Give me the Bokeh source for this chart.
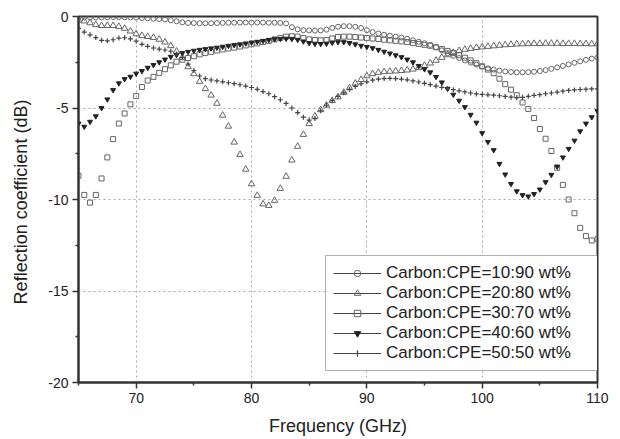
import numpy as np
from bokeh.plotting import figure
from bokeh.models import (Range1d, FixedTicker, Legend, LegendItem, ColumnDataSource)
from bokeh.embed import file_html
from bokeh.resources import INLINE

# Frequency grid (GHz), 0.5 GHz step from 65 to 110
freq = [65.0 + 0.5 * i for i in range(91)]

s10_90 = [-0.05, -0.05, -0.05, -0.05, -0.05, -0.04, -0.03, -0.03, -0.04, -0.05,
          -0.06, -0.08, -0.10, -0.12, -0.14, -0.16, -0.20, -0.26, -0.32, -0.35,
          -0.36, -0.37, -0.37, -0.37, -0.36, -0.35, -0.34, -0.34, -0.33, -0.33,
          -0.33, -0.33, -0.33, -0.34, -0.34, -0.35, -0.38, -0.58, -0.70, -0.75,
          -0.76, -0.77, -0.76, -0.72, -0.62, -0.56, -0.53, -0.53, -0.56, -0.63,
          -0.75, -0.85, -0.93, -1.00, -1.05, -1.10, -1.15, -1.22, -1.30, -1.38,
          -1.46, -1.55, -1.68, -1.85, -2.00, -2.15, -2.27, -2.40, -2.52, -2.63,
          -2.74, -2.83, -2.90, -2.96, -3.00, -3.03, -3.05, -3.05, -3.04, -3.02,
          -2.98, -2.93, -2.86, -2.78, -2.70, -2.62, -2.53, -2.45, -2.37, -2.30,
          -2.24]

s20_80 = [-0.20, -0.25, -0.35, -0.45, -0.50, -0.50, -0.50, -0.55, -0.65, -0.80,
          -0.95, -1.05, -1.10, -1.15, -1.25, -1.40, -1.60, -1.90, -2.25, -2.75,
          -3.13, -3.55, -3.95, -4.30, -4.75, -5.40, -6.00, -6.87, -7.55, -8.35,
          -9.15, -9.78, -10.25, -10.33, -10.05, -9.40, -8.74, -7.85, -7.10, -6.45,
          -5.86, -5.45, -5.10, -4.85, -4.60, -4.40, -4.15, -3.90, -3.65, -3.45,
          -3.25, -3.13, -3.06, -3.02, -3.00, -2.98, -2.96, -2.93, -2.88, -2.80,
          -2.68, -2.55, -2.40, -2.24, -2.10, -1.97, -1.87, -1.80, -1.75, -1.70,
          -1.67, -1.64, -1.61, -1.58, -1.55, -1.53, -1.51, -1.50, -1.49, -1.48,
          -1.48, -1.47, -1.47, -1.47, -1.48, -1.48, -1.48, -1.49, -1.49, -1.50,
          -1.50]

s30_70 = [-8.70, -9.75, -10.17, -9.75, -8.85, -7.70, -6.70, -5.85, -5.30, -4.80,
          -4.35, -3.85, -3.50, -3.30, -3.08, -2.88, -2.67, -2.47, -2.36, -2.27,
          -2.17, -2.07, -2.00, -1.93, -1.86, -1.80, -1.75, -1.70, -1.64, -1.58,
          -1.52, -1.47, -1.40, -1.33, -1.25, -1.17, -1.10, -1.08, -1.10, -1.18,
          -1.25, -1.28, -1.30, -1.28, -1.20, -1.12, -1.10, -1.10, -1.12, -1.15,
          -1.17, -1.20, -1.23, -1.27, -1.30, -1.33, -1.36, -1.40, -1.45, -1.50,
          -1.55, -1.60, -1.68, -1.78, -1.88, -2.00, -2.12, -2.25, -2.40, -2.55,
          -2.72, -2.90, -3.10, -3.40, -3.70, -4.00, -4.30, -4.70, -5.05, -5.55,
          -6.15, -6.68, -7.35, -8.27, -9.20, -10.00, -10.75, -11.55, -12.00, -12.24,
          -12.15]

s40_60 = [-5.85, -6.02, -5.75, -5.45, -5.00, -4.53, -4.02, -3.65, -3.42, -3.29,
          -3.12, -2.98, -2.80, -2.65, -2.50, -2.35, -2.20, -2.10, -2.00, -1.93,
          -1.87, -1.82, -1.78, -1.74, -1.70, -1.65, -1.60, -1.56, -1.52, -1.47,
          -1.42, -1.38, -1.33, -1.28, -1.24, -1.22, -1.21, -1.22, -1.27, -1.36,
          -1.45, -1.49, -1.50, -1.48, -1.43, -1.40, -1.40, -1.45, -1.52, -1.60,
          -1.66, -1.73, -1.82, -1.92, -2.02, -2.12, -2.22, -2.35, -2.50, -2.70,
          -2.88, -3.05, -3.30, -3.60, -3.95, -4.27, -4.60, -4.95, -5.37, -5.80,
          -6.37, -6.85, -7.30, -8.05, -8.63, -9.15, -9.55, -9.76, -9.83, -9.70,
          -9.45, -9.05, -8.65, -8.20, -7.70, -7.23, -6.78, -6.27, -5.85, -5.50,
          -5.17]

s50_50 = [-0.65, -0.85, -1.00, -1.15, -1.30, -1.33, -1.27, -1.18, -1.16, -1.22,
          -1.35, -1.52, -1.63, -1.72, -1.78, -1.83, -1.90, -2.05, -2.25, -2.60,
          -2.95, -3.25, -3.40, -3.47, -3.52, -3.57, -3.62, -3.67, -3.73, -3.80,
          -3.88, -3.98, -4.10, -4.22, -4.38, -4.55, -4.75, -5.00, -5.25, -5.50,
          -5.66, -5.58, -5.15, -4.85, -4.60, -4.37, -4.17, -3.98, -3.82, -3.68,
          -3.57, -3.48, -3.42, -3.39, -3.38, -3.39, -3.42, -3.46, -3.52, -3.58,
          -3.65, -3.72, -3.80, -3.87, -3.94, -4.00, -4.06, -4.12, -4.18, -4.23,
          -4.26, -4.28, -4.30, -4.33, -4.37, -4.41, -4.44, -4.42, -4.36, -4.31,
          -4.27, -4.22, -4.18, -4.13, -4.08, -4.04, -4.01, -3.99, -3.97, -3.96,
          -3.95]

labels = ["Carbon:CPE=10:90 wt%", "Carbon:CPE=20:80 wt%", "Carbon:CPE=30:70 wt%",
          "Carbon:CPE=40:60 wt%", "Carbon:CPE=50:50 wt%"]

x_ticks = [70, 80, 90, 100, 110]
x_minor = [65, 75, 85, 95, 105]
y_ticks = [-20, -15, -10, -5, 0]
y_minor = [-17.5, -12.5, -7.5, -2.5]
y_tick_labels = ["-20", "-15", "-10", "-5", "0"]
x_tick_labels = ["70", "80", "90", "100", "110"]

FONT = "Liberation Sans"
TXT = "#222222"

p = figure(width=620, height=439, output_backend="svg", toolbar_location=None,
           x_range=Range1d(65, 110), y_range=Range1d(-20, 0),
           min_border_left=78, min_border_right=23, min_border_top=16,
           min_border_bottom=57, background_fill_color="white",
           border_fill_color="white")

p.outline_line_color = "#333333"
p.outline_line_width = 2

for ax in (p.xaxis[0], p.yaxis[0]):
    ax.axis_line_color = "#333333"
    ax.axis_line_width = 2
    ax.major_tick_line_color = "#333333"
    ax.major_tick_line_width = 1.5
    ax.minor_tick_line_color = "#333333"
    ax.minor_tick_line_width = 1.5
    ax.major_tick_in = 0
    ax.major_tick_out = 6
    ax.minor_tick_in = 0
    ax.minor_tick_out = 3
    ax.major_label_text_font = FONT
    ax.major_label_text_font_size = "14px"
    ax.major_label_text_color = TXT
    ax.axis_label_text_font = FONT
    ax.axis_label_text_font_size = "18px"
    ax.axis_label_text_font_style = "normal"
    ax.axis_label_text_color = TXT

p.xaxis.ticker = FixedTicker(ticks=x_ticks, minor_ticks=x_minor)
p.yaxis.ticker = FixedTicker(ticks=y_ticks, minor_ticks=y_minor)
p.xaxis.major_label_overrides = {t: s for t, s in zip(x_ticks, x_tick_labels)}
p.yaxis.major_label_overrides = {t: s for t, s in zip(y_ticks, y_tick_labels)}
p.xaxis.major_label_standoff = 4
p.yaxis.major_label_standoff = 4
p.xaxis.axis_label = "Frequency (GHz)"
p.yaxis.axis_label = "Reflection  coefficient (dB)"
p.xaxis.axis_label_standoff = 10
p.yaxis.axis_label_standoff = 14

for g in (p.xgrid[0], p.ygrid[0]):
    g.grid_line_color = "#aaaaaa"
    g.grid_line_dash = "2 3"
    g.grid_line_width = 1

series = [s10_90, s20_80, s30_70, s40_60, s50_50]
styles = [
    dict(marker="circle", size=5, line_color="#666666", fill_color=None, line_width=1),
    dict(marker="triangle", size=6.5, line_color="#666666", fill_color=None, line_width=1),
    dict(marker="square", size=5, line_color="#666666", fill_color=None, line_width=1),
    dict(marker="inverted_triangle", size=5, line_color="#222222", fill_color="#222222", line_width=1),
    dict(marker="cross", size=5, line_color="#444444", line_width=1.2),
]

items = []
for vals, st, lab in zip(series, styles, labels):
    src = ColumnDataSource(dict(x=freq, y=vals))
    lr = p.line("x", "y", source=src, line_color="#444444", line_width=1)
    lr.visible = False
    sr = p.scatter("x", "y", source=src, **st)
    items.append(LegendItem(label=lab, renderers=[lr, sr]))

legend = Legend(items=items, location=(247, 11), margin=0, padding=7,
                glyph_width=48, glyph_height=16, label_standoff=5,
                label_width=204, spacing=0,
                label_text_font=FONT, label_text_font_size="17px",
                label_text_color=TXT, border_line_color="#666666",
                border_line_width=1, background_fill_color="white",
                background_fill_alpha=1.0)
p.add_layout(legend, "center")

open("out.html", "w").write(file_html(p, INLINE))
